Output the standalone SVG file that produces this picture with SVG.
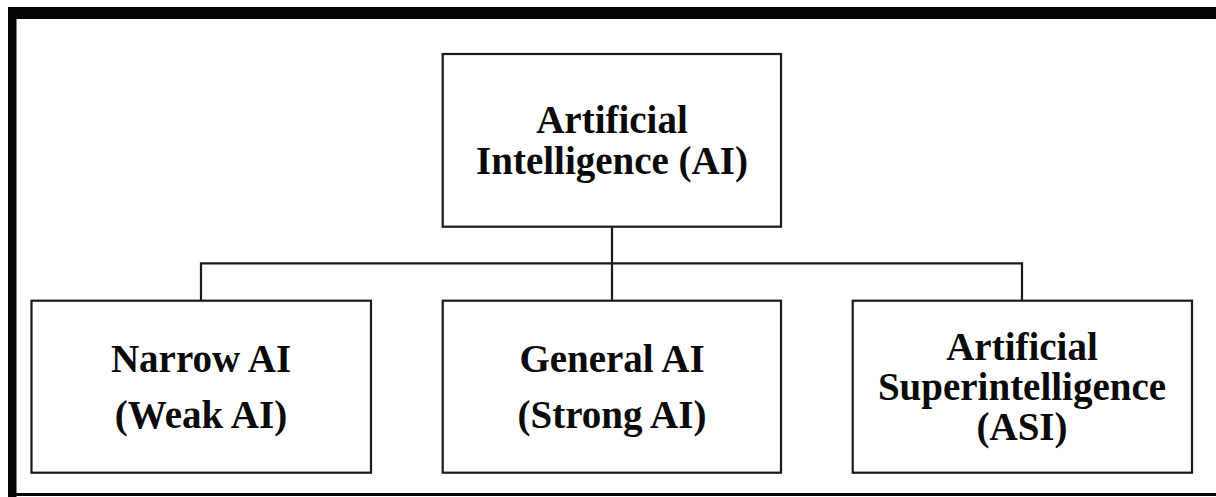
<svg xmlns="http://www.w3.org/2000/svg" width="1216" height="497" viewBox="0 0 1216 497">
  <style>
    .box { fill: #ffffff; stroke: #1a1a1a; stroke-width: 2.2; }
    .lbl { font-family: "Liberation Serif", "Times New Roman", serif; font-weight: bold; font-size: 39px; fill: #0a0a0a; text-anchor: middle; }
    .conn { fill: none; stroke: #1a1a1a; stroke-width: 2.2; }
  </style>
  <rect x="0" y="0" width="1216" height="497" fill="#ffffff"/>
  <g id="frame">
    <rect x="8" y="7" width="1208" height="12" fill="#050505"/>
    <rect x="8" y="7" width="8.5" height="490" fill="#050505"/>
    <rect x="8" y="493" width="1208" height="3" fill="#050505"/>
  </g>
  <g id="connectors">
    <path class="conn" d="M612 227 V300.7"/>
    <path class="conn" d="M201 300.7 V263.3 H1022 V300.7"/>
  </g>
  <g id="node-ai">
    <rect class="box" x="442.7" y="54" width="338.3" height="172.7"/>
    <text class="lbl" x="612" y="133">Artificial</text>
    <text class="lbl" x="612" y="173.5">Intelligence (AI)</text>
  </g>
  <g id="node-narrow">
    <rect class="box" x="31.5" y="300.7" width="339.5" height="172"/>
    <text class="lbl" x="201" y="372">Narrow AI</text>
    <text class="lbl" x="201" y="428">(Weak AI)</text>
  </g>
  <g id="node-general">
    <rect class="box" x="442.7" y="300.7" width="338.3" height="172"/>
    <text class="lbl" x="612" y="372">General AI</text>
    <text class="lbl" x="612" y="428">(Strong AI)</text>
  </g>
  <g id="node-asi">
    <rect class="box" x="852.7" y="300.7" width="339.3" height="172"/>
    <text class="lbl" x="1022" y="360">Artificial</text>
    <text class="lbl" x="1022" y="400">Superintelligence</text>
    <text class="lbl" x="1022" y="440">(ASI)</text>
  </g>
</svg>
